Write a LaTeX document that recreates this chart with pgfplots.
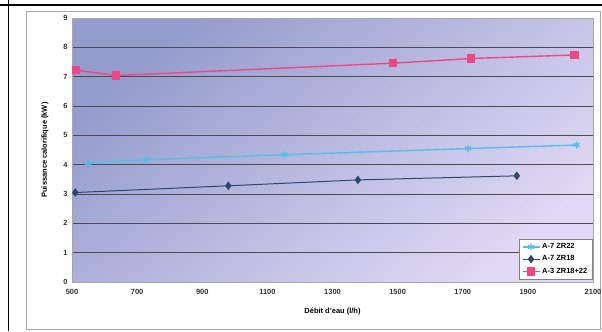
\documentclass[border=0pt]{standalone}
\usepackage{fontspec}
\setmainfont{Liberation Sans}
\usepackage{pgfplots}
\pgfplotsset{compat=1.18}
\definecolor{cyanS}{RGB}{85,190,230}
\definecolor{navyS}{RGB}{45,72,112}
\definecolor{pinkS}{RGB}{238,72,132}
\definecolor{bgA}{RGB}{148,156,205}
\definecolor{bgB}{RGB}{224,216,244}
\begin{document}
\begin{tikzpicture}[x=1bp,y=1bp]
\path[use as bounding box] (0,0) rectangle (602,331);
\draw[black,line width=1.2bp] (0,326) -- (602,326);
\draw[black,line width=0.8bp] (8,0) -- (8,331);
\draw[gray!70,line width=0.5bp] (26,2) rectangle (600,320);
\begin{axis}[
  at={(72bp,49bp)}, anchor=south west,
  width=521bp, height=264bp, scale only axis,
  xmin=500, xmax=2100, ymin=0, ymax=9,
  xtick={500,700,900,1100,1300,1500,1700,1900,2100},
  ytick={0,1,2,3,4,5,6,7,8,9},
  /pgf/number format/assume math mode=true,
  /pgf/number format/1000 sep={},
  tick label style={font=\fontsize{7.5}{8}\selectfont\bfseries, text=black!80},
  xticklabel style={yshift=-4bp},
  yticklabel style={xshift=-1bp},
  ymajorgrids, grid style={gray!60!black, line width=0.5bp},
  axis line style={gray!70},
  tick style={draw=none},
  axis background/.style={shade, left color=bgA, right color=bgB, shading angle=40},
  xlabel={Débit d'eau (l/h)}, ylabel={Puissance calorifique (kW)},
  label style={font=\fontsize{7.5}{8}\selectfont\bfseries},
  xlabel style={yshift=-6bp},
  ylabel style={yshift=8bp},
  legend style={at={(0.998,0.01)}, anchor=south east, font=\fontsize{7.5}{8.5}\selectfont\bfseries,
    draw=gray, fill=white, row sep=1.5pt, inner sep=2.5pt},
  legend cell align=left,
]
\addplot[cyanS, line width=1.4bp, mark=asterisk, mark size=3.5bp, mark options={line width=1.2bp}]
  coordinates {(550,4.05) (730,4.17) (1153,4.34) (1717,4.55) (2050,4.67)};
\addlegendentry{A-7 ZR22}
\addplot[navyS, line width=1bp, mark=diamond*, mark size=3.5bp]
  coordinates {(510,3.05) (980,3.28) (1378,3.48) (1866,3.62)};
\addlegendentry{A-7 ZR18}
\addplot[pinkS, line width=1.4bp, mark=square*, mark size=3.5bp]
  coordinates {(513,7.22) (635,7.04) (1486,7.46) (1726,7.62) (2043,7.74)};
\addlegendentry{A-3 ZR18+22}
\end{axis}
\end{tikzpicture}
\end{document}
